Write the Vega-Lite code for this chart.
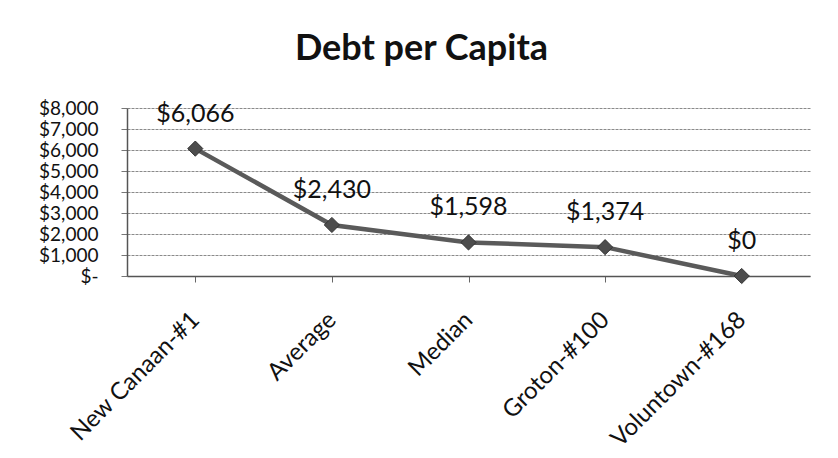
{
  "$schema": "https://vega.github.io/schema/vega-lite/v6.json",
  "width": 683,
  "height": 168,
  "autosize": {"type": "none"},
  "padding": {"left": 127, "top": 108, "right": 28, "bottom": 182},
  "background": "white",
  "title": {
    "text": "Debt per Capita",
    "font": "Lato",
    "fontSize": 36,
    "fontWeight": "bold",
    "color": "#111111",
    "anchor": "middle",
    "frame": "group",
    "dx": -47,
    "offset": 31
  },
  "config": {
    "view": {"stroke": null},
    "axis": {"labelFont": "Lato", "labelColor": "#111111", "titleFont": "Lato"}
  },
  "data": {
    "values": [
      {"name": "New Canaan-#1", "debt": 6066},
      {"name": "Average", "debt": 2430},
      {"name": "Median", "debt": 1598},
      {"name": "Groton-#100", "debt": 1374},
      {"name": "Voluntown-#168", "debt": 0}
    ]
  },
  "encoding": {
    "x": {
      "field": "name",
      "type": "nominal",
      "sort": null,
      "scale": {"paddingInner": 0, "paddingOuter": 0},
      "axis": {
        "title": null,
        "labelAngle": -45,
        "labelAlign": "right",
        "labelBaseline": "middle",
        "labelFontSize": 24,
        "labelPadding": 34,
        "labelOverlap": false,
        "tickSize": 6,
        "tickColor": "#666666",
        "bandPosition": 0,
        "domainColor": "#555555",
        "domainWidth": 1.5,
        "grid": false
      }
    },
    "y": {
      "field": "debt",
      "type": "quantitative",
      "scale": {"domain": [0, 8000], "nice": false},
      "axis": {
        "title": null,
        "values": [0, 1000, 2000, 3000, 4000, 5000, 6000, 7000, 8000],
        "labelExpr": "datum.value == 0 ? '$-\u2007' : format(datum.value, '$,')",
        "labelFontSize": 19,
        "labelPadding": 23,
        "labelOverlap": false,
        "labelBound": false,
        "tickSize": 6,
        "tickColor": "#777777",
        "domainColor": "#555555",
        "domainWidth": 1.5,
        "grid": true,
        "gridColor": "#8a8a8a",
        "gridDash": [3, 1],
        "gridWidth": 1
      }
    }
  },
  "layer": [
    {
      "mark": {"type": "line", "color": "#5a5a5a", "strokeWidth": 4.5}
    },
    {
      "mark": {"type": "point", "shape": "diamond", "filled": true, "size": 230, "color": "#4d4d4d", "stroke": "#333333", "strokeWidth": 1, "opacity": 1}
    },
    {
      "mark": {"type": "text", "dy": -35, "font": "Lato", "fontSize": 25, "color": "#111111", "baseline": "middle"},
      "encoding": {
        "text": {"field": "debt", "type": "quantitative", "format": "$,"}
      }
    }
  ]
}
